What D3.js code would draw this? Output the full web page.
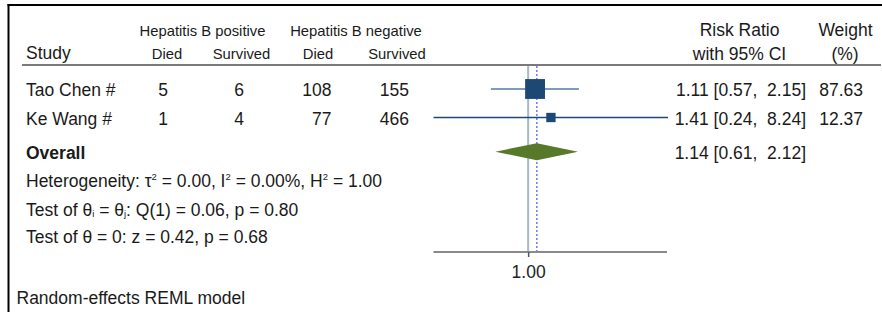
<!DOCTYPE html>
<html><head><meta charset="utf-8">
<script src="https://cdn.jsdelivr.net/npm/d3@7"></script>
<style>
html,body{margin:0;padding:0;background:#fff;}
svg{display:block;font-family:"Liberation Sans",Arial,sans-serif;}
text{white-space:pre;}
</style></head>
<body>
<svg id="chart" width="882" height="312"></svg>
<script>
// ---- data ----
const studies   = ["Tao Chen #", "Ke Wang #"];
const posDied   = [5, 1];
const posSurv   = [6, 4];
const negDied   = [108, 77];
const negSurv   = [155, 466];
const rr        = [1.11, 1.41];
const ciLow     = [0.57, 0.24];
const ciHigh    = [2.15, 8.24];
const weights   = [87.63, 12.37];
const overall   = {est: 1.14, lo: 0.61, hi: 2.12};
const xTicks    = [1];
const groupHeaders = ["Hepatitis B positive", "Hepatitis B negative"];
const subHeaders   = ["Died", "Survived", "Died", "Survived"];

const svg = d3.select("#chart");
const txt = "#1a1a1a";
const FS = 17.5;

// scales
const x = d3.scaleLog().domain([0.24, 8.24]).range([433.5, 668]);
const y = d3.scaleLinear().domain([0, 1]).range([89, 117.5]);
const sq = d3.scaleSqrt().domain([0, 100]).range([3, 21]);
const f2 = d3.format(".2f");
const ciText = (e, l, h) => `${f2(e)} [${f2(l)},  ${f2(h)}]`;

// frame (top + left)
svg.append("line").attr("x1", 7.5).attr("x2", 882).attr("y1", 5).attr("y2", 5)
  .attr("stroke", "#000").attr("stroke-width", 2);
svg.append("line").attr("x1", 8.5).attr("x2", 8.5).attr("y1", 4).attr("y2", 312)
  .attr("stroke", "#000").attr("stroke-width", 2);

// headers
const groupX = [202.5, 356];
svg.selectAll("text.gh").data(groupHeaders).join("text")
  .attr("x", (d, i) => groupX[i]).attr("y", 35.5).attr("text-anchor", "middle")
  .attr("font-size", 14.8).attr("fill", txt).text(d => d);
const subX = [167, 241.5, 318, 397];
svg.selectAll("text.sh").data(subHeaders).join("text")
  .attr("x", (d, i) => subX[i]).attr("y", 59).attr("text-anchor", "middle")
  .attr("font-size", 14.8).attr("fill", txt).text(d => d);
svg.append("text").attr("x", 26).attr("y", 59).attr("font-size", FS).attr("fill", txt).text("Study");
svg.append("text").attr("x", 739.5).attr("y", 36).attr("text-anchor", "middle").attr("font-size", FS).attr("fill", txt).text("Risk Ratio");
svg.append("text").attr("x", 739.5).attr("y", 59.5).attr("text-anchor", "middle").attr("font-size", FS).attr("fill", txt).text("with 95% CI");
svg.append("text").attr("x", 845.5).attr("y", 36).attr("text-anchor", "middle").attr("font-size", FS).attr("fill", txt).text("Weight");
svg.append("text").attr("x", 845).attr("y", 59.5).attr("text-anchor", "middle").attr("font-size", FS).attr("fill", txt).text("(%)");

// separator
svg.append("line").attr("x1", 22).attr("x2", 881).attr("y1", 65).attr("y2", 65)
  .attr("stroke", "#7a7a7a").attr("stroke-width", 2);

// reference line at 1 and overall dotted line
const yTop = 66, yAxis = 252;
svg.append("line").attr("x1", x(1)).attr("x2", x(1)).attr("y1", yTop).attr("y2", yAxis)
  .attr("stroke", "#a9b8c9").attr("stroke-width", 2);
svg.append("line").attr("x1", x(overall.est)).attr("x2", x(overall.est)).attr("y1", yTop).attr("y2", yAxis)
  .attr("stroke", "#7c7cf2").attr("stroke-width", 1.6).attr("stroke-dasharray", "2,2");

// axis
const axis = d3.axisBottom(x).tickValues(xTicks).tickFormat(f2).tickSize(5).tickSizeOuter(0);
const gAxis = svg.append("g").attr("transform", `translate(0,${yAxis})`).call(axis);
gAxis.select(".domain").attr("stroke", "#8a8a8a").attr("stroke-width", 2)
  .attr("d", `M${x.range()[0]},0H${x.range()[1] - 1}`);
gAxis.selectAll(".tick line").attr("stroke", "#555").attr("stroke-width", 1.5);
gAxis.selectAll(".tick text").attr("font-size", FS).attr("fill", "#222")
  .attr("font-family", "Liberation Sans, Arial, sans-serif").attr("dy", "1.02em");

// study rows
const idx = d3.range(studies.length);
const ciColor = ["#7f9bb9", "#1f4a75"];
const ciWidth = [2, 1.3];
svg.selectAll("line.ci").data(idx).join("line")
  .attr("x1", i => x(ciLow[i])).attr("x2", i => x(ciHigh[i]))
  .attr("y1", i => y(i)).attr("y2", i => y(i))
  .attr("stroke", i => ciColor[i]).attr("stroke-width", i => ciWidth[i]);
svg.selectAll("rect.mk").data(idx).join("rect")
  .attr("x", i => x(rr[i]) - sq(weights[i]) / 2).attr("y", i => y(i) - sq(weights[i]) / 2)
  .attr("width", i => sq(weights[i])).attr("height", i => sq(weights[i]))
  .attr("fill", "#1c4873");

const rowText = (vals, xPos, anchor, fmt) => {
  svg.append("g").selectAll("text").data(idx).join("text")
    .attr("x", xPos).attr("y", i => y(i) + 7).attr("text-anchor", anchor)
    .attr("font-size", FS).attr("fill", txt)
    .text(i => fmt ? fmt(vals[i], i) : vals[i]);
};
rowText(studies, 26, "start");
rowText(posDied, 168, "end");
rowText(posSurv, 244, "end");
rowText(negDied, 331.5, "end");
rowText(negSurv, 409, "end");
rowText(rr, 806, "end", (v, i) => ciText(v, ciLow[i], ciHigh[i]));
rowText(weights, 863, "end", v => f2(v));

// overall
const yo = y(2.2);
const dh = 8.5;
svg.append("path")
  .attr("d", `M${x(overall.lo)},${yo}L${x(overall.est)},${yo - dh}L${x(overall.hi)},${yo}L${x(overall.est)},${yo + dh}Z`)
  .attr("fill", "#58782a");
svg.append("text").attr("x", 26).attr("y", yo + 7.5).attr("font-size", FS).attr("font-weight", "bold")
  .attr("fill", txt).text("Overall");
svg.append("text").attr("x", 806).attr("y", yo + 7.5).attr("text-anchor", "end").attr("font-size", FS)
  .attr("fill", txt).text(ciText(overall.est, overall.lo, overall.hi));

// heterogeneity & tests
const het = svg.append("text").attr("x", 26).attr("y", y(3.2) + 7).attr("font-size", FS).attr("fill", txt);
het.append("tspan").text("Heterogeneity: τ");
het.append("tspan").attr("font-size", 9.5).attr("dy", -7.5).text("2");
het.append("tspan").attr("dy", 7.5).text(" = 0.00, I");
het.append("tspan").attr("font-size", 9.5).attr("dy", -7.5).text("2");
het.append("tspan").attr("dy", 7.5).text(" = 0.00%, H");
het.append("tspan").attr("font-size", 9.5).attr("dy", -7.5).text("2");
het.append("tspan").attr("dy", 7.5).text(" = 1.00");

const t1 = svg.append("text").attr("x", 26).attr("y", y(4.2) + 7).attr("font-size", FS).attr("fill", txt);
t1.append("tspan").text("Test of θ");
t1.append("tspan").attr("font-size", 9.5).attr("dy", 1).text("i");
t1.append("tspan").attr("dy", -1).text(" = θ");
t1.append("tspan").attr("font-size", 9.5).attr("dy", 1).text("j");
t1.append("tspan").attr("dy", -1).text(": Q(1) = 0.06, p = 0.80");

svg.append("text").attr("x", 26).attr("y", y(5.2) + 6).attr("font-size", FS).attr("fill", txt)
  .text("Test of θ = 0: z = 0.42, p = 0.68");

svg.append("text").attr("x", 16.5).attr("y", 304).attr("font-size", FS).attr("fill", txt)
  .text("Random-effects REML model");
</script>
</body></html>
